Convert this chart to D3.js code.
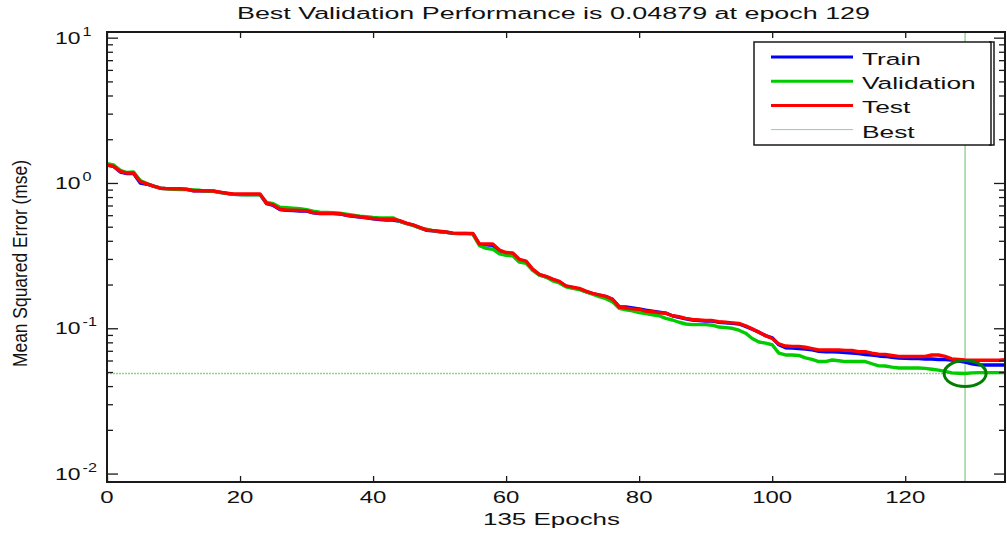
<!DOCTYPE html>
<html>
<head>
<meta charset="utf-8">
<script src="https://cdn.jsdelivr.net/npm/d3@7"></script>
<style>
  html, body { margin: 0; padding: 0; background: #fff; }
  svg { display: block; font-family: "Liberation Sans", Arial, sans-serif; }
</style>
</head>
<body>
<svg id="chart" width="1007" height="535"></svg>
<script>
// Training record: mean squared error per epoch
const epochs = d3.range(0, 136);

const trainMse = [
  1.33, 1.30, 1.19, 1.16, 1.16, 1.00, 0.98, 0.95, 0.92, 0.915,
  0.91, 0.908, 0.903, 0.884, 0.883, 0.88, 0.878, 0.862, 0.848, 0.835,
  0.832, 0.832, 0.832, 0.832, 0.72, 0.70, 0.655, 0.648, 0.645, 0.642,
  0.64, 0.622, 0.615, 0.615, 0.615, 0.612, 0.598, 0.59, 0.582, 0.575,
  0.567, 0.56, 0.556, 0.556, 0.545, 0.527, 0.512, 0.493, 0.473, 0.468,
  0.462, 0.458, 0.45, 0.448, 0.448, 0.448, 0.378, 0.375, 0.372, 0.34,
  0.328, 0.326, 0.295, 0.287, 0.252, 0.233, 0.226, 0.216, 0.208, 0.195,
  0.19, 0.186, 0.179, 0.173, 0.169, 0.165, 0.158, 0.141, 0.140, 0.138,
  0.136, 0.133, 0.131, 0.129, 0.127, 0.122, 0.119, 0.116, 0.114, 0.113,
  0.112, 0.112, 0.110, 0.109, 0.108, 0.107, 0.103, 0.0985, 0.094, 0.089,
  0.086, 0.077, 0.0735, 0.073, 0.0725, 0.072, 0.071, 0.0695, 0.069, 0.069,
  0.0685, 0.068, 0.0675, 0.067, 0.066, 0.0655, 0.0645, 0.064, 0.063, 0.0625,
  0.0622, 0.062, 0.062, 0.0615, 0.0615, 0.061, 0.061, 0.0605, 0.0595, 0.0585,
  0.057, 0.056, 0.0559, 0.0559, 0.0559, 0.0559
];

const validationMse = [
  1.36, 1.33, 1.22, 1.18, 1.19, 1.04, 0.99, 0.95, 0.92, 0.91,
  0.905, 0.90, 0.90, 0.895, 0.89, 0.88, 0.875, 0.86, 0.85, 0.835,
  0.832, 0.83, 0.83, 0.83, 0.735, 0.72, 0.68, 0.675, 0.67, 0.665,
  0.655, 0.64, 0.63, 0.628, 0.625, 0.62, 0.61, 0.60, 0.59, 0.585,
  0.578, 0.575, 0.575, 0.575, 0.545, 0.525, 0.51, 0.49, 0.48, 0.47,
  0.462, 0.458, 0.452, 0.45, 0.45, 0.445, 0.37, 0.355, 0.35, 0.325,
  0.318, 0.315, 0.285, 0.28, 0.25, 0.232, 0.225, 0.212, 0.205, 0.193,
  0.188, 0.185, 0.178, 0.172, 0.165, 0.16, 0.152, 0.137, 0.134, 0.132,
  0.128, 0.126, 0.124, 0.122, 0.117, 0.114, 0.11, 0.107, 0.106, 0.106,
  0.106, 0.105, 0.102, 0.101, 0.10, 0.097, 0.0925, 0.085, 0.0805, 0.079,
  0.077, 0.0675, 0.0655, 0.0655, 0.065, 0.0625, 0.061, 0.059, 0.059, 0.0605,
  0.0598, 0.059, 0.059, 0.059, 0.059, 0.057, 0.0551, 0.055, 0.054, 0.0533,
  0.0533, 0.0533, 0.0533, 0.053, 0.0522, 0.0515, 0.0505, 0.0493, 0.049, 0.04879,
  0.0493, 0.0495, 0.0495, 0.0495, 0.0495, 0.0495
];

const testMse = [
  1.33, 1.30, 1.20, 1.17, 1.17, 1.02, 0.985, 0.95, 0.92, 0.915,
  0.912, 0.91, 0.905, 0.885, 0.884, 0.882, 0.88, 0.865, 0.85, 0.84,
  0.84, 0.84, 0.84, 0.84, 0.725, 0.706, 0.66, 0.652, 0.65, 0.647,
  0.645, 0.625, 0.618, 0.618, 0.618, 0.615, 0.60, 0.593, 0.586, 0.578,
  0.57, 0.564, 0.563, 0.563, 0.55, 0.53, 0.515, 0.495, 0.475, 0.47,
  0.465, 0.46, 0.452, 0.45, 0.45, 0.45, 0.38, 0.38, 0.38, 0.345,
  0.332, 0.33, 0.298, 0.29, 0.255, 0.235, 0.228, 0.218, 0.21, 0.196,
  0.192, 0.188, 0.18, 0.174, 0.17, 0.166, 0.158, 0.14, 0.138, 0.136,
  0.135, 0.131, 0.13, 0.128, 0.127, 0.122, 0.12, 0.117, 0.115, 0.114,
  0.113, 0.113, 0.111, 0.11, 0.109, 0.108, 0.104, 0.099, 0.094, 0.089,
  0.085, 0.078, 0.0755, 0.075, 0.075, 0.074, 0.0725, 0.071, 0.071, 0.071,
  0.071, 0.0705, 0.0703, 0.069, 0.069, 0.0675, 0.0664, 0.066, 0.065, 0.064,
  0.064, 0.064, 0.064, 0.064, 0.0655, 0.0655, 0.064, 0.0615, 0.061, 0.0605,
  0.0602, 0.0602, 0.0602, 0.0602, 0.0602, 0.0607
];

const bestEpoch = 129;
const bestPerf = 0.04879;
const totalEpochs = 135;

const xTickValues = [0, 20, 40, 60, 80, 100, 120];
const yTickExponents = [-2, -1, 0, 1];

const seriesNames = ["Train", "Validation", "Test", "Best"];
const seriesColors = ["#0000ff", "#00cc00", "#ff0000", "#8fd28f"];

const titleText = "Best Validation Performance is 0.04879 at epoch 129";
const xLabelText = totalEpochs + " Epochs";
const yLabelText = "Mean Squared Error  (mse)";

// ---- layout ----
const svg = d3.select("#chart");
const plot = { left: 107, right: 1005, top: 32, bottom: 482 };

const x = d3.scaleLinear().domain([0, totalEpochs]).range([plot.left, plot.right]);
const y = d3.scaleLog()
  .domain([Math.pow(10, -2.058), Math.pow(10, 1.039)])
  .range([plot.bottom, plot.top]);

const clipId = "plot-clip";
svg.append("defs").append("clipPath").attr("id", clipId)
  .append("rect")
  .attr("x", plot.left).attr("y", plot.top)
  .attr("width", plot.right - plot.left).attr("height", plot.bottom - plot.top);

// ---- best markers (thin guide lines) ----
const guides = svg.append("g").attr("clip-path", `url(#${clipId})`);
guides.append("line")
  .attr("x1", x(bestEpoch)).attr("x2", x(bestEpoch))
  .attr("y1", plot.top).attr("y2", plot.bottom)
  .attr("stroke", seriesColors[3]).attr("stroke-width", 1.4);
guides.append("line")
  .attr("x1", plot.left).attr("x2", plot.right)
  .attr("y1", y(bestPerf)).attr("y2", y(bestPerf))
  .attr("stroke", seriesColors[3]).attr("stroke-width", 1.4)
  .attr("stroke-dasharray", "2,1");

// ---- performance curves ----
const line = d3.line()
  .x((d, i) => x(epochs[i]))
  .y(d => y(d));

const curves = svg.append("g").attr("clip-path", `url(#${clipId})`);
[trainMse, validationMse, testMse].forEach((values, k) => {
  curves.append("path")
    .datum(values)
    .attr("d", line)
    .attr("fill", "none")
    .attr("stroke", seriesColors[k])
    .attr("stroke-width", 3.4)
    .attr("stroke-linejoin", "round");
});

// best-epoch circle
curves.append("ellipse")
  .attr("cx", x(bestEpoch)).attr("cy", y(bestPerf))
  .attr("rx", 21).attr("ry", 13)
  .attr("fill", "none")
  .attr("stroke", "#007f00")
  .attr("stroke-width", 3);

// ---- axes (ticks point inward, box on all sides) ----
const axisColor = "#1a1a1a";

function styleAxis(g) {
  g.select(".domain").remove();
  g.selectAll("text").remove();
  g.selectAll("line").attr("stroke", axisColor).attr("stroke-width", 1.3);
}

svg.append("g")
  .attr("transform", `translate(0,${plot.bottom})`)
  .call(d3.axisBottom(x).tickValues(xTickValues).tickSizeInner(-6).tickSizeOuter(0))
  .call(styleAxis);
svg.append("g")
  .attr("transform", `translate(0,${plot.top})`)
  .call(d3.axisTop(x).tickValues(xTickValues).tickSizeInner(-6).tickSizeOuter(0))
  .call(styleAxis);

const majorY = yTickExponents.map(e => Math.pow(10, e));
const minorY = [];
yTickExponents.slice(0, -1).forEach(e => {
  for (let m = 2; m <= 9; m++) minorY.push(m * Math.pow(10, e));
});

[[d3.axisLeft, plot.left], [d3.axisRight, plot.right]].forEach(([axisFn, pos]) => {
  svg.append("g")
    .attr("transform", `translate(${pos},0)`)
    .call(axisFn(y).tickValues(majorY).tickSizeInner(-11).tickSizeOuter(0))
    .call(styleAxis);
  svg.append("g")
    .attr("transform", `translate(${pos},0)`)
    .call(axisFn(y).tickValues(minorY).tickSizeInner(-6).tickSizeOuter(0))
    .call(styleAxis);
});

// frame
svg.append("rect")
  .attr("x", plot.left).attr("y", plot.top)
  .attr("width", plot.right - plot.left).attr("height", plot.bottom - plot.top)
  .attr("fill", "none").attr("stroke", axisColor).attr("stroke-width", 2);

// ---- tick labels ----
const textColor = "#111";

xTickValues.forEach(v => {
  svg.append("g")
    .attr("transform", `translate(${x(v)},503) scale(1.5,1)`)
    .append("text")
    .attr("text-anchor", "middle")
    .attr("font-size", 16)
    .attr("fill", textColor)
    .text(v);
});

yTickExponents.forEach(e => {
  const t = svg.append("g")
    .attr("transform", `translate(55,${y(Math.pow(10, e)) + 6}) scale(1.35,1)`)
    .append("text")
    .attr("font-size", 17)
    .attr("fill", textColor);
  t.append("tspan").text("10");
  t.append("tspan")
    .attr("dx", 1.5)
    .attr("dy", -8)
    .attr("font-size", 12)
    .text(e);
});

// ---- titles ----
svg.append("text")
  .attr("x", 237).attr("y", 19)
  .attr("font-size", 16)
  .attr("fill", textColor)
  .attr("textLength", 633)
  .attr("lengthAdjust", "spacingAndGlyphs")
  .text(titleText);

svg.append("text")
  .attr("x", 483).attr("y", 525)
  .attr("font-size", 16)
  .attr("fill", textColor)
  .attr("textLength", 137)
  .attr("lengthAdjust", "spacingAndGlyphs")
  .text(xLabelText);

svg.append("text")
  .attr("transform", "translate(27,367) rotate(-90)")
  .attr("font-size", 19.5)
  .attr("fill", textColor)
  .attr("textLength", 207)
  .attr("lengthAdjust", "spacingAndGlyphs")
  .text(yLabelText);

// ---- legend ----
const legend = { x0: 754, x1: 991, y0: 42, y1: 145 };
const lg = svg.append("g");
lg.append("rect")
  .attr("x", legend.x0).attr("y", legend.y0)
  .attr("width", legend.x1 - legend.x0).attr("height", legend.y1 - legend.y0)
  .attr("fill", "#fff").attr("stroke", axisColor).attr("stroke-width", 1.5);
lg.append("path")
  .attr("d", `M${legend.x1 - 2},${legend.y0} H${legend.x1 + 3} V${legend.y1} H${legend.x1 - 2}`)
  .attr("fill", "none").attr("stroke", axisColor).attr("stroke-width", 1.5);

seriesNames.forEach((name, i) => {
  const cy = 57 + i * 24.2;
  lg.append("line")
    .attr("x1", 771).attr("x2", 853)
    .attr("y1", cy).attr("y2", cy)
    .attr("stroke", seriesColors[i])
    .attr("stroke-width", i === 3 ? 1 : 3);
  lg.append("g")
    .attr("transform", `translate(862,${cy + 8}) scale(1.55,1)`)
    .append("text")
    .attr("font-size", 17)
    .attr("fill", textColor)
    .text(name);
});
</script>
</body>
</html>
